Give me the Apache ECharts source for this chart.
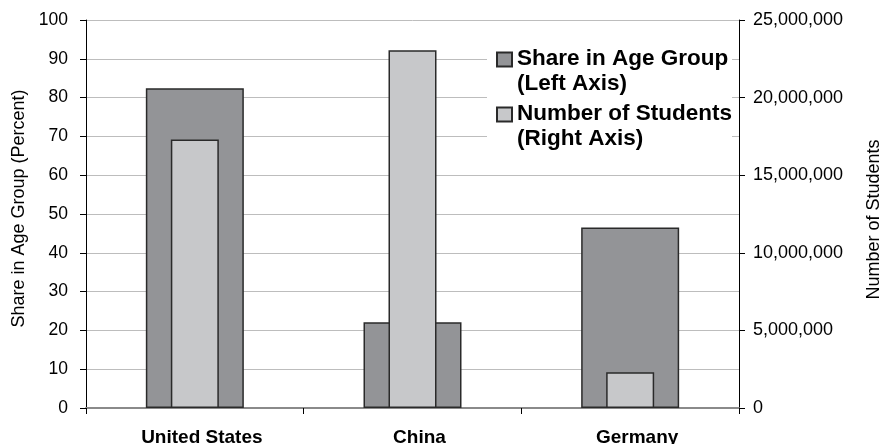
<!DOCTYPE html>
<html>
<head>
<meta charset="utf-8">
<script src="https://cdn.jsdelivr.net/npm/echarts@6/dist/echarts.min.js"></script>
<style>
html,body{margin:0;padding:0;background:#fff;}
#chart{width:883px;height:444px;}
</style>
</head>
<body>
<div id="chart"></div>
<script>
const categories = ['United States', 'China', 'Germany'];
const shareValues = [82.4, 22.1, 46.5];
const studentValues = [17300000, 23050000, 2300000];
const leftTicks = { min: 0, max: 100, interval: 10 };
const rightTicks = { min: 0, max: 25000000, interval: 5000000 };
const seriesNames = ['Share in Age Group\n(Left Axis)', 'Number of Students\n(Right Axis)'];

const FONT = '"Liberation Sans", Arial, Helvetica, sans-serif';
const chart = echarts.init(document.getElementById('chart'), null, { renderer: 'canvas' });

function fmt(v) { return String(v).replace(/\B(?=(\d{3})+(?!\d))/g, ','); }

// legend icon: square at the top, invisible extent below so the first text line aligns with it
const LEGEND_ICON = 'path://M0,0L15,0L15,14L0,14Z M0,38L0.001,38';

chart.setOption({
  animation: false,
  backgroundColor: '#fff',
  grid: { left: 86, right: 144, top: 20, bottom: 36, containLabel: false, outerBoundsMode: 'none' },
  legend: {
    orient: 'vertical', left: 487, top: 39,
    padding: [8, 0, 6, 9],
    itemGap: 6, itemWidth: 15, itemHeight: 38, icon: LEGEND_ICON,
    backgroundColor: '#fff', selectedMode: false,
    data: seriesNames,
    textStyle: { fontFamily: FONT, fontSize: 22.5, fontWeight: 'bold', color: '#000', lineHeight: 24.5 }
  },
  xAxis: [
    {
      type: 'category', data: categories, position: 'bottom',
      axisLine: { show: true, lineStyle: { color: '#000', width: 1 } },
      axisTick: { show: true, length: 6, alignWithLabel: false, lineStyle: { color: '#000' } },
      axisLabel: { fontFamily: FONT, fontSize: 19, fontWeight: 'bold', color: '#000', margin: 20, padding: [0, 0, 0, 14] },
      splitLine: { show: false }
    },
    {
      type: 'category', data: categories, position: 'top',
      axisLine: { show: true, lineStyle: { color: '#8a8a8a', width: 2 } },
      axisTick: { show: false }, axisLabel: { show: false }, splitLine: { show: false }
    }
  ],
  yAxis: [
    {
      type: 'value', position: 'left', min: leftTicks.min, max: leftTicks.max, interval: leftTicks.interval,
      name: 'Share in Age Group (Percent)', nameLocation: 'middle', nameRotate: 90, nameGap: 48,
      nameTextStyle: { fontFamily: FONT, fontSize: 18, color: '#000', padding: [0, 0, 0, 11] },
      axisLine: { show: true, lineStyle: { color: '#000', width: 1 } },
      axisTick: { show: true, length: 6, lineStyle: { color: '#000' } },
      axisLabel: { fontFamily: FONT, fontSize: 17.5, color: '#000', margin: 18 },
      splitLine: { show: true, lineStyle: { color: '#bdbdbd', width: 1 } }
    },
    {
      type: 'value', position: 'right', min: rightTicks.min, max: rightTicks.max, interval: rightTicks.interval,
      name: 'Number of Students', nameLocation: 'middle', nameRotate: 90, nameGap: 126,
      nameTextStyle: { fontFamily: FONT, fontSize: 18, color: '#000', padding: [0, 11, 0, 0] },
      axisLine: { show: true, lineStyle: { color: '#000', width: 1 } },
      axisTick: { show: true, length: 6, lineStyle: { color: '#000' } },
      axisLabel: { fontFamily: FONT, fontSize: 18, color: '#000', margin: 14, formatter: fmt },
      splitLine: { show: false }
    }
  ],
  series: [
    {
      name: seriesNames[0], type: 'bar', xAxisIndex: 0, yAxisIndex: 0,
      data: shareValues, barWidth: 98,
      itemStyle: { color: '#939497', borderColor: '#2a2a2a', borderWidth: 1.5 }
    },
    {
      name: seriesNames[1], type: 'bar', xAxisIndex: 1, yAxisIndex: 1,
      data: studentValues, barWidth: 48,
      itemStyle: { color: '#c7c8ca', borderColor: '#2a2a2a', borderWidth: 1.5 }
    }
  ]
});
</script>
</body>
</html>
